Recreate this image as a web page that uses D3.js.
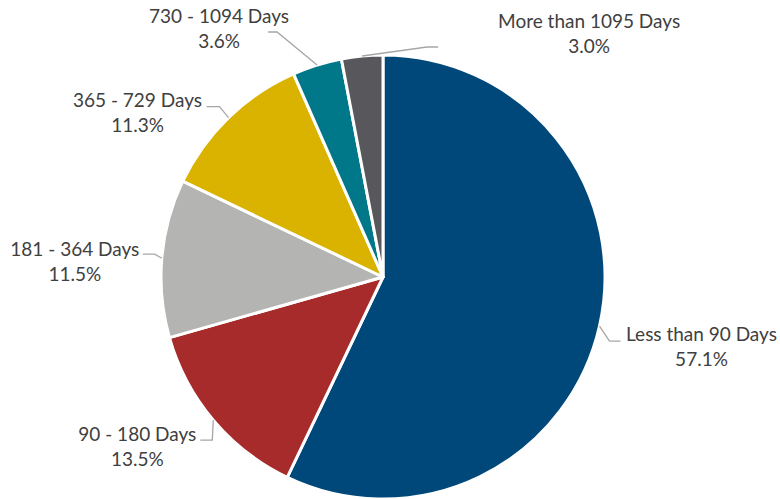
<!DOCTYPE html>
<html>
<head>
<meta charset="utf-8">
<script src="https://cdn.jsdelivr.net/npm/d3@7"></script>
<style>
  body { margin: 0; background: #fff; }
  svg text { font-family: Lato, "Open Sans", sans-serif; fill: #404040; }
</style>
</head>
<body>
<svg id="chart"></svg>
<script>
/**
 * Data
 */
var categories = ["Less than 90 Days", "90 - 180 Days", "181 - 364 Days",
    "365 - 729 Days", "730 - 1094 Days", "More than 1095 Days"];
var shares = [57.1, 13.5, 11.5, 11.3, 3.6, 3.0];
var colors = ["#00487A", "#A62B2A", "#B4B4B2", "#D9B300", "#00788A", "#58585C"];

var w = 780;
var h = 499;
var cx = 383;
var cy = 277;
var radius = 222;

// leader line / label layout, offsets from the slice's outer mid point
var labelLayout = [
    { elbow: [10, 15], run: 11, text: [81, 0] },
    { elbow: [-1, 20], run: -12, text: [-63, 1] },
    { elbow: [-7, -4], run: -12, text: [-68, 2] },
    { elbow: [-9, -11], run: -13, text: [-69, 0] },
    { elbow: [-40, -33], run: -9, text: [-49, -9] },
    { elbow: [65, -9], run: 11, text: [151, -19] }
];

var dataset = categories.map(function(c, i) {
    return { label: c, value: shares[i], color: colors[i], layout: labelLayout[i] };
});

var svg = d3.select("#chart").attr("width", w).attr("height", h);
var g = svg.append("g").attr("transform", "translate(" + cx + "," + cy + ")");

var pie = d3.pie()
    .sort(null)
    .value(function(d) { return d.value; });

var arc = d3.arc().innerRadius(0).outerRadius(radius);

var arcs = pie(dataset);

// Slices
g.selectAll("path.slice")
    .data(arcs)
    .enter()
    .append("path")
    .attr("class", "slice")
    .attr("d", arc)
    .attr("fill", function(d) { return d.data.color; })
    .attr("stroke", "#fff")
    .attr("stroke-width", 3)
    .attr("stroke-linejoin", "round");

// Leader lines + labels
arcs.forEach(function(d) {
    let a = (d.startAngle + d.endAngle) / 2;
    let ex = radius * Math.sin(a);
    let ey = -radius * Math.cos(a);
    let L = d.data.layout;
    let bx = ex + L.elbow[0];
    let by = ey + L.elbow[1];
    let tx = bx + L.run;

    g.append("polyline")
        .attr("points", [[ex, ey], [bx, by], [tx, by]].join(" "))
        .attr("fill", "none")
        .attr("stroke", "#A6A6A6")
        .attr("stroke-width", 1.3);

    let text = g.append("text")
        .attr("text-anchor", "middle")
        .attr("font-size", 19);
    text.append("tspan")
        .attr("x", tx + L.text[0])
        .attr("y", by + L.text[1])
        .text(d.data.label);
    text.append("tspan")
        .attr("x", tx + L.text[0])
        .attr("y", by + L.text[1] + 25)
        .text(d.data.value.toFixed(1) + "%");
});
</script>
</body>
</html>
